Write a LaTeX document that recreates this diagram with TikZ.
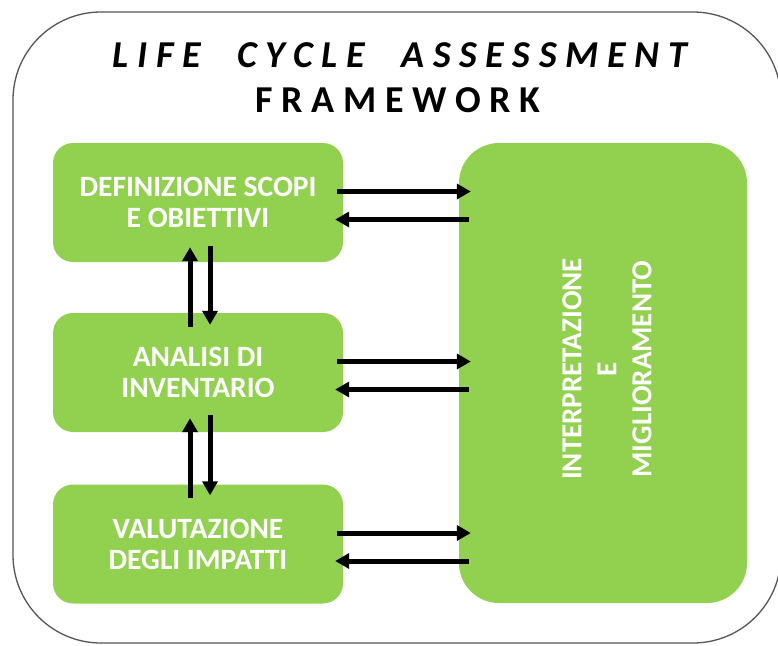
\documentclass[tikz,border=0pt]{standalone}
\usepackage{fontspec}
\setmainfont{Carlito}
\newfontfamily\titlefont[LetterSpace=23]{Carlito}
\usetikzlibrary{calc,arrows.meta}
\definecolor{lcagreen}{HTML}{92D050}
\definecolor{framegray}{HTML}{555555}
\tikzset{
  stage/.style={fill=lcagreen, draw=none, rounded corners=20pt, minimum width=290pt, minimum height=119pt,
    text=white, font=\fontsize{29.5}{31}\selectfont\bfseries, align=center, inner sep=0pt},
  bigstage/.style={fill=lcagreen, draw=none, rounded corners=40pt, minimum width=288pt, minimum height=460pt, inner sep=0pt},
  arr/.style={line width=5pt, -{Triangle[length=14pt,width=15pt]}},
  frame/.style={draw=framegray, line width=1.3pt, rounded corners=88pt},
}
\begin{document}
\begin{tikzpicture}[x=1pt,y=-1pt]
\useasboundingbox (0,0) rectangle (778,645);
\fill[white] (0,0) rectangle (778,645);
\draw[frame] (13,12) rectangle (781,643);
\node[font=\fontsize{38}{40}\selectfont\titlefont\bfseries\itshape] (t1) at (400,55) {LIFE\hspace{19pt} CYCLE\hspace{19pt} ASSESSMENT};
\node[font=\fontsize{38}{40}\selectfont\titlefont\bfseries] (t2) at (398,100) {FRAMEWORK};
\node[stage] (d1) at (198,202.5) {DEFINIZIONE SCOPI\\E OBIETTIVI};
\node[stage] (d2) at (198,372.5) {ANALISI DI\\INVENTARIO};
\node[stage] (d3) at (198,544) {VALUTAZIONE\\DEGLI IMPATTI};
\node[bigstage] (im) at (603,373) {};
\node[rotate=90, text=white, font=\fontsize{29}{35}\selectfont\bfseries, align=center] (imt) at (607,369) {INTERPRETAZIONE\\E\\MIGLIORAMENTO};
\foreach \b in {d1,d2,d3}{
  \draw[arr] ($(\b.east)+(-6,-11)$) -- ($(\b.east -| im.west)+(12,-11)$);
  \draw[arr] ($(\b.east -| im.west)+(10,17)$) -- ($(\b.east)+(-8,17)$);
}
\draw[arr] ($(d2.north)+(-8,14)$) -- ($(d1.south)+(-8,-15)$);
\draw[arr] ($(d1.south)+(12,-16)$) -- ($(d2.north)+(12,12)$);
\draw[arr] ($(d3.north)+(-8,14)$) -- ($(d2.south)+(-8,-14)$);
\draw[arr] ($(d2.south)+(12,-17)$) -- ($(d3.north)+(12,11)$);
\end{tikzpicture}
\end{document}
